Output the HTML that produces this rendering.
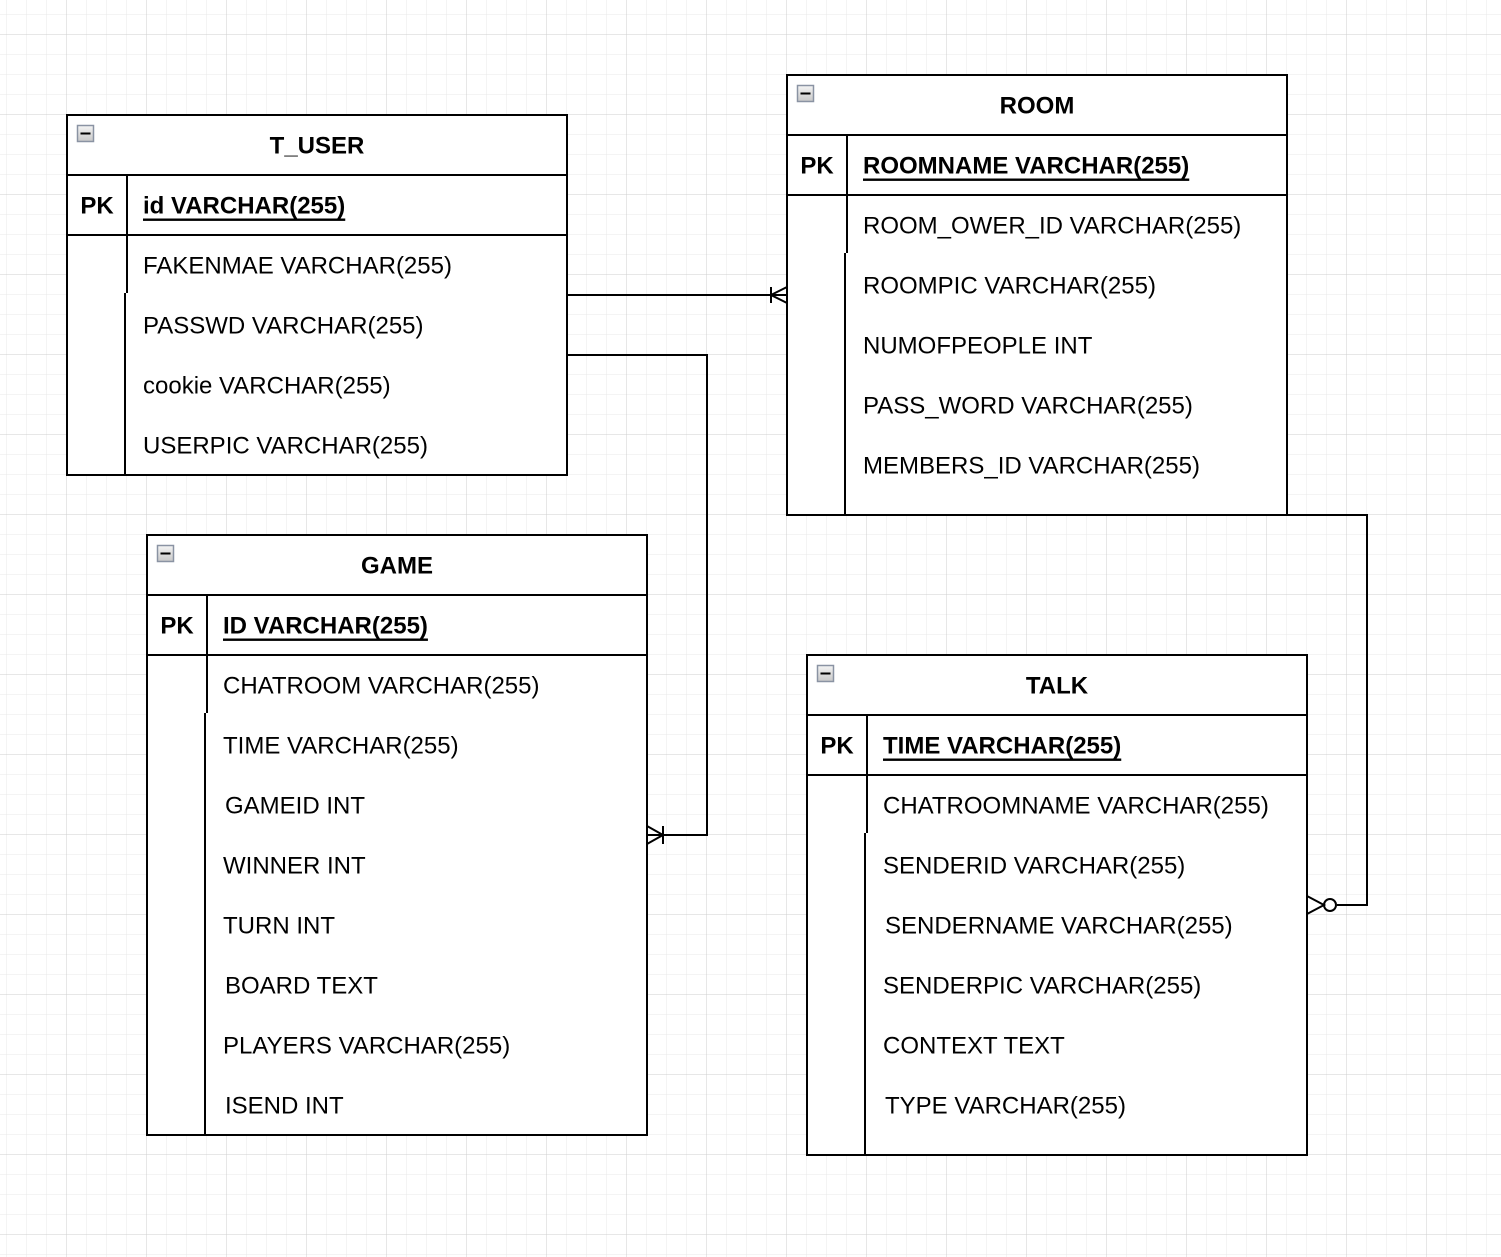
<!DOCTYPE html>
<html><head><meta charset="utf-8"><style>
html,body{margin:0;padding:0;background:#fff}
svg{display:block}
text{font-family:"Liberation Sans",Arial,sans-serif;font-size:24px;fill:#000}
.b{font-weight:bold}
</style></head><body>
<svg width="1501" height="1257" xmlns="http://www.w3.org/2000/svg">
<defs>
<pattern id="mn" x="6" y="14" width="20" height="20" patternUnits="userSpaceOnUse"><path d="M0 0H20M0 0V20" stroke="#e8e8e8" stroke-width="1" fill="none"/></pattern>
<pattern id="mj" x="66" y="34" width="80" height="80" patternUnits="userSpaceOnUse"><path d="M0 0H80M0 0V80" stroke="#cfcfcf" stroke-width="1" fill="none"/></pattern>
<linearGradient id="ig" x1="0" y1="0" x2="0" y2="1"><stop offset="0" stop-color="#f4f4f4"/><stop offset="1" stop-color="#c8c8c8"/></linearGradient>
<g id="ico"><rect x="0.5" y="0.5" width="16" height="16" fill="url(#ig)" stroke="#8a93a3" stroke-width="1.5"/><rect x="3.5" y="7.5" width="10" height="2" fill="#000"/></g>
</defs>
<rect width="1501" height="1257" fill="url(#mn)"/>
<rect width="1501" height="1257" fill="url(#mj)"/>

<g fill="none" stroke="#000" stroke-width="2">
<path d="M567 295H787"/>
<path d="M771 287V303M787 287L771 295L787 303"/>
<path d="M567 355H707V835H647"/>
<path d="M663 826V844M647 826L663 835L647 844"/>
<path d="M1287 515H1367V905H1337"/>
<circle cx="1330" cy="905" r="6" fill="#fff"/>
<path d="M1307 896L1324 905L1307 914"/>

<rect x="67" y="115" width="500" height="360" fill="#fff"/>
<path d="M67 175H567M67 235H567M127 175V293M125 293V475"/>
<rect x="787" y="75" width="500" height="440" fill="#fff"/>
<path d="M787 135H1287M787 195H1287M847 135V253M845 253V515"/>
<rect x="147" y="535" width="500" height="600" fill="#fff"/>
<path d="M147 595H647M147 655H647M207 595V713M205 713V1135"/>
<rect x="807" y="655" width="500" height="500" fill="#fff"/>
<path d="M807 715H1307M807 775H1307M867 715V833M865 833V1155"/>
</g>
<use href="#ico" x="77" y="125"/>
<use href="#ico" x="797" y="85"/>
<use href="#ico" x="157" y="545"/>
<use href="#ico" x="817" y="665"/>

<g dominant-baseline="central">
<text class="b" x="317" y="146" text-anchor="middle">T_USER</text>
<text class="b" x="97" y="206" text-anchor="middle">PK</text>
<text class="b" x="143" y="206" text-decoration="underline">id VARCHAR(255)</text>
<text x="143" y="266">FAKENMAE VARCHAR(255)</text>
<text x="143" y="326">PASSWD VARCHAR(255)</text>
<text x="143" y="386">cookie VARCHAR(255)</text>
<text x="143" y="446">USERPIC VARCHAR(255)</text>

<text class="b" x="1037" y="106" text-anchor="middle">ROOM</text>
<text class="b" x="817" y="166" text-anchor="middle">PK</text>
<text class="b" x="863" y="166" text-decoration="underline">ROOMNAME VARCHAR(255)</text>
<text x="863" y="226">ROOM_OWER_ID VARCHAR(255)</text>
<text x="863" y="286">ROOMPIC VARCHAR(255)</text>
<text x="863" y="346">NUMOFPEOPLE INT</text>
<text x="863" y="406">PASS_WORD VARCHAR(255)</text>
<text x="863" y="466">MEMBERS_ID VARCHAR(255)</text>

<text class="b" x="397" y="566" text-anchor="middle">GAME</text>
<text class="b" x="177" y="626" text-anchor="middle">PK</text>
<text class="b" x="223" y="626" text-decoration="underline">ID VARCHAR(255)</text>
<text x="223" y="686">CHATROOM VARCHAR(255)</text>
<text x="223" y="746">TIME VARCHAR(255)</text>
<text x="225" y="806">GAMEID INT</text>
<text x="223" y="866">WINNER INT</text>
<text x="223" y="926">TURN INT</text>
<text x="225" y="986">BOARD TEXT</text>
<text x="223" y="1046">PLAYERS VARCHAR(255)</text>
<text x="225" y="1106">ISEND INT</text>

<text class="b" x="1057" y="686" text-anchor="middle">TALK</text>
<text class="b" x="837" y="746" text-anchor="middle">PK</text>
<text class="b" x="883" y="746" text-decoration="underline">TIME VARCHAR(255)</text>
<text x="883" y="806">CHATROOMNAME VARCHAR(255)</text>
<text x="883" y="866">SENDERID VARCHAR(255)</text>
<text x="885" y="926">SENDERNAME VARCHAR(255)</text>
<text x="883" y="986">SENDERPIC VARCHAR(255)</text>
<text x="883" y="1046">CONTEXT TEXT</text>
<text x="885" y="1106">TYPE VARCHAR(255)</text>
</g>
</svg>
</body></html>
